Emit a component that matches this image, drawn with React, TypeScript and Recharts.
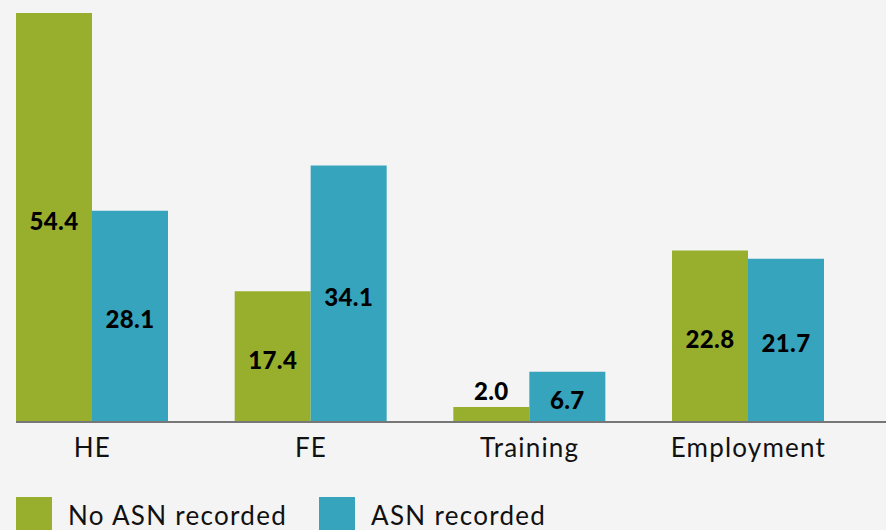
import React from 'react';
import { BarChart, Bar, XAxis, YAxis, Legend, LabelList } from 'recharts';

const categories = ['HE', 'FE', 'Training', 'Employment'];
const noAsn = [54.4, 17.4, 2.0, 22.8];
const asn = [28.1, 34.1, 6.7, 21.7];
const seriesNames = ['No ASN recorded', 'ASN recorded'];

const GREEN = '#98af2d';
const TEAL = '#36a4bc';
const FONT = 'Lato, "Noto Sans", sans-serif';

const data = categories.map((c, i) => ({ name: c, noAsn: noAsn[i], asn: asn[i] }));

const ValueLabel = (props: any) => {
  const { x, y, width, height, value } = props;
  const cx = x + width / 2;
  const small = height < 30;
  const ty = small ? y - 16 : y + height / 2 + 2.5;
  return (
    <text
      x={cx}
      y={ty}
      textAnchor="middle"
      dominantBaseline="central"
      fontFamily={FONT}
      fontWeight={900}
      fontSize={24}
      letterSpacing={0.4}
      fill="#000"
    >
      {Number(value).toFixed(1)}
    </text>
  );
};

const CatTick = (props: any) => {
  const { x, y, payload } = props;
  return (
    <text
      x={x}
      y={y}
      dy="0.71em"
      textAnchor="middle"
      fontFamily={FONT}
      fontSize={26}
      letterSpacing={1.2}
      fill="#111"
    >
      {payload.value}
    </text>
  );
};

const LegendContent = (props: any) => {
  const payload = [...(props.payload || [])].sort(
    (a: any, b: any) => seriesNames.indexOf(a.value) - seriesNames.indexOf(b.value)
  );
  return (
    <div style={{ height: 33, position: 'relative', fontFamily: FONT }}>
      {payload.map((p: any, i: number) => (
        <div
          key={i}
          style={{
            position: 'absolute',
            left: i === 0 ? 16 : 319,
            top: 0,
            display: 'flex',
            alignItems: 'flex-start',
          }}
        >
          <div style={{ width: 36, height: 36, background: p.color }} />
          <span
            style={{
              marginLeft: 16,
              fontSize: 26,
              letterSpacing: 1.3,
              color: '#111',
              lineHeight: '37px',
              whiteSpace: 'nowrap',
            }}
          >
            {p.value}
          </span>
        </div>
      ))}
    </div>
  );
};

export default function App() {
  return (
    <div style={{ position: 'absolute', left: 0, top: 0, width: 886, height: 530, background: '#f4f4f4', overflow: 'hidden' }}>
      <BarChart
        width={886}
        height={530}
        data={data}
        margin={{ top: 13, right: 0, left: 16, bottom: 0 }}
        barSize={76}
        barGap={0}
      >
        <XAxis
          dataKey="name"
          padding={{ left: -33, right: 28.33 }}
          axisLine={{ stroke: '#777', strokeWidth: 2 }}
          tickLine={false}
          tickSize={0}
          tickMargin={17}
          height={75}
          interval={0}
          tick={<CatTick />}
        />
        <YAxis hide domain={[0, 54.4]} />
        <Legend
          verticalAlign="bottom"
          content={<LegendContent />}
          wrapperStyle={{ left: 0, bottom: 0, width: 886 }}
        />
        <Bar dataKey="noAsn" name={seriesNames[0]} fill={GREEN} isAnimationActive={false}>
          <LabelList dataKey="noAsn" content={<ValueLabel />} />
        </Bar>
        <Bar dataKey="asn" name={seriesNames[1]} fill={TEAL} isAnimationActive={false}>
          <LabelList dataKey="asn" content={<ValueLabel />} />
        </Bar>
      </BarChart>
    </div>
  );
}
